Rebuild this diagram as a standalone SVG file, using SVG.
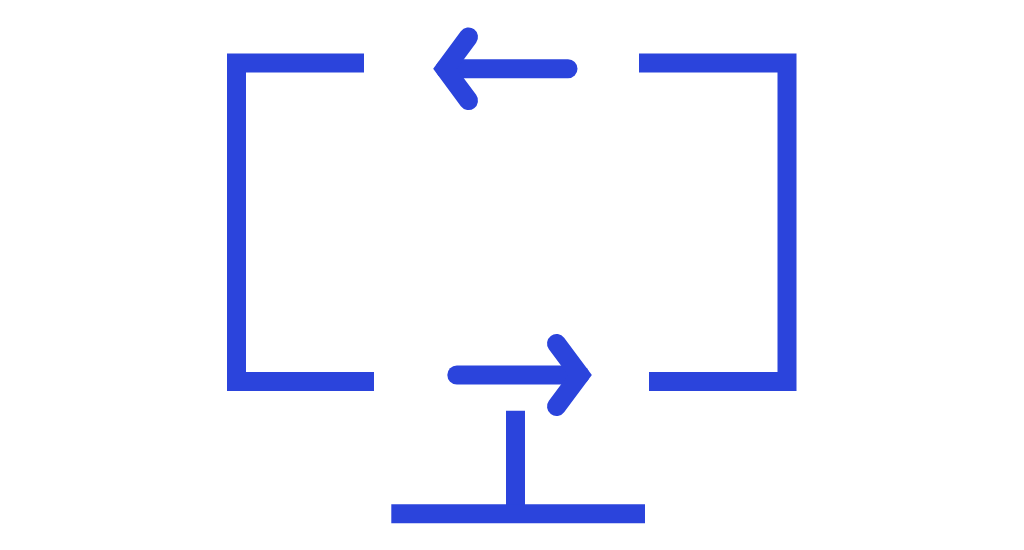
<svg xmlns="http://www.w3.org/2000/svg" width="1024" height="550" viewBox="0 0 1024 550">
<style>
.l{fill:none;stroke:#2b44dc;stroke-width:19;stroke-linecap:butt;stroke-linejoin:miter;stroke-miterlimit:10}
.a{fill:none;stroke:#2b44dc;stroke-width:19;stroke-linecap:round;stroke-linejoin:miter;stroke-miterlimit:10}
</style>
<rect width="1024" height="550" fill="#fff"/>
<g id="connectors">
<path class="l" d="M364 63H236.500V381.500H374"/>
<path class="l" d="M639 63H787V381.500H649"/>
<path class="a" d="M568 68.800H445"/>
<path class="a" d="M468.500 37L445 68.800L468.500 100.500"/>
<path class="a" d="M456.800 375H580"/>
<path class="a" d="M556.500 343.500L580 375L556.500 406.500"/>
<path class="l" d="M515.500 410.700V514"/>
<path class="l" d="M391.300 513.800H645"/>
</g>
</svg>
